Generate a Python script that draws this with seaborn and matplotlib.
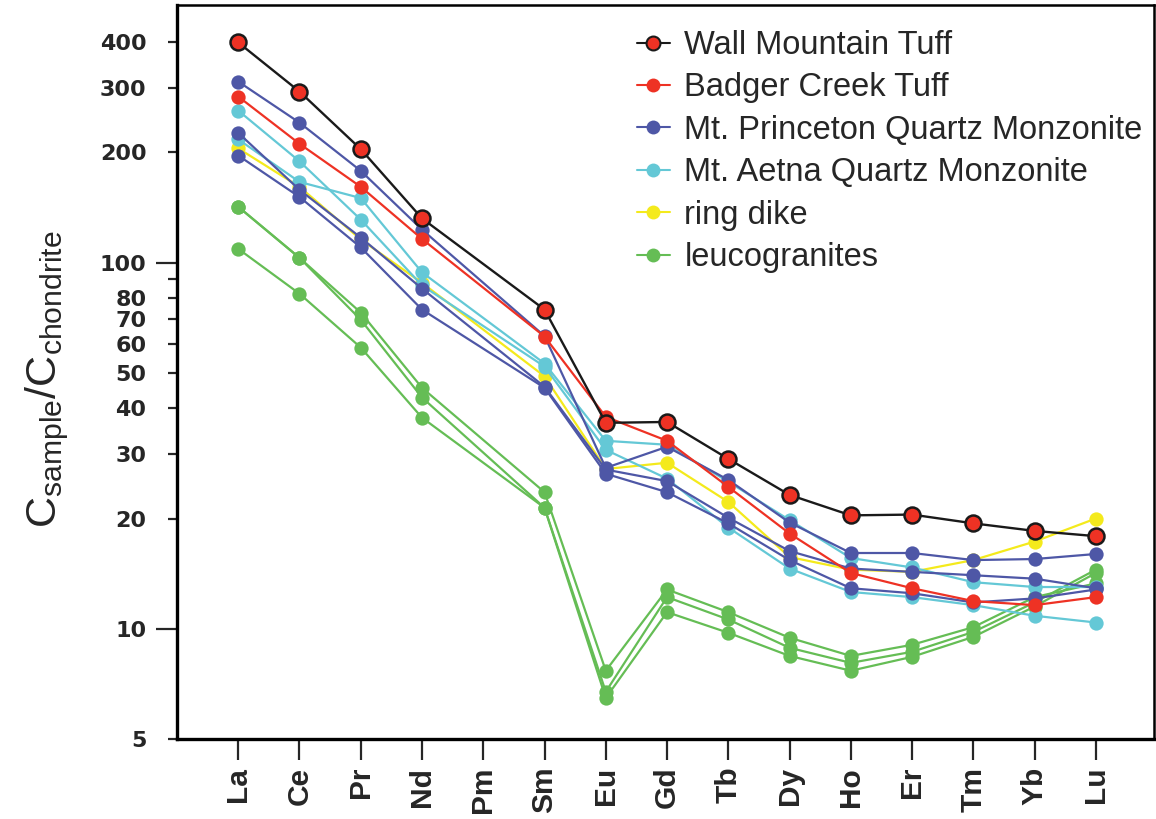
import numpy as np
import pandas as pd
import matplotlib
matplotlib.use("Agg")
import matplotlib.pyplot as plt
from matplotlib.lines import Line2D
from matplotlib.ticker import NullLocator
import seaborn as sns

# Rare earth elements along the x axis (Pm is not measured)
elements = ["La", "Ce", "Pr", "Nd", "Pm", "Sm", "Eu", "Gd", "Tb",
            "Dy", "Ho", "Er", "Tm", "Yb", "Lu"]
nan = np.nan

# Chondrite-normalised concentrations, one list per sample
wall_mountain = [399, 293, 204, 132, nan, 74.4, 36.5, 36.7, 29.1, 23.2, 20.4, 20.5, 19.4, 18.5, 17.9]
badger_creek = [284, 211, 161, 116, nan, 62.8, 37.9, 32.6, 24.4, 18.2, 14.2, 12.9, 11.9, 11.6, 12.2]
princeton_1 = [312, 241, 178, 123, nan, 63.0, 27.5, 31.4, 25.5, 19.5, 16.1, 16.1, 15.4, 15.5, 16.0]
princeton_2 = [226, 158, 117, 84.9, nan, 45.8, 27.2, 25.3, 20.1, 16.3, 14.6, 14.3, 14.0, 13.7, 12.9]
princeton_3 = [196, 151, 110, 74.4, nan, 45.5, 26.5, 23.6, 19.4, 15.4, 12.9, 12.5, 11.8, 12.1, 12.8]
aetna_1 = [260, 189, 131, 86.6, nan, 52.0, 30.8, 25.7, 18.9, 14.6, 12.6, 12.2, 11.6, 10.85, 10.4]
aetna_2 = [217, 166, 150, 94.0, nan, 53.0, 32.6, 31.8, 25.2, 19.8, 15.6, 14.7, 13.4, 13.0, 13.0]
ring_dike = [205, 161, 115.6, 88.0, nan, 48.9, 27.3, 28.4, 22.2, 15.7, 14.5, 14.3, 15.4, 17.3, 20.0]
leuco_1 = [142, 103, 73.0, 45.5, nan, 23.6, 7.68, 12.8, 11.1, 9.45, 8.43, 9.04, 10.1, 12.2, 13.3]
leuco_2 = [142, 103, 69.8, 42.8, nan, 21.4, 6.73, 12.2, 10.6, 8.87, 8.07, 8.65, 9.8, 11.8, 14.5]
leuco_3 = [109, 82.2, 58.6, 37.7, nan, 21.4, 6.47, 11.1, 9.75, 8.43, 7.68, 8.38, 9.5, 11.5, 14.2]

groups = ["Wall Mountain Tuff", "Badger Creek Tuff", "Mt. Princeton Quartz Monzonite",
          "Mt. Aetna Quartz Monzonite", "ring dike", "leucogranites"]
samples = {
    "Wall Mountain Tuff": [wall_mountain],
    "Badger Creek Tuff": [badger_creek],
    "Mt. Princeton Quartz Monzonite": [princeton_1, princeton_2, princeton_3],
    "Mt. Aetna Quartz Monzonite": [aetna_1, aetna_2],
    "ring dike": [ring_dike],
    "leucogranites": [leuco_1, leuco_2, leuco_3],
}
colors = {
    "Wall Mountain Tuff": "#EE3224",
    "Badger Creek Tuff": "#EE3224",
    "Mt. Princeton Quartz Monzonite": "#4E57A6",
    "Mt. Aetna Quartz Monzonite": "#64C8D6",
    "ring dike": "#F4EA1C",
    "leucogranites": "#65BD55",
}

y_ticks = [5, 10, 20, 30, 40, 50, 60, 70, 80, 90, 100, 200, 300, 400]
y_tick_labels = ["5", "10", "20", "30", "40", "50", "60", "70", "80", "", "100", "200", "300", "400"]

# Long-form table, Pm rows dropped so lines run straight from Nd to Sm
rows = []
for g in groups:
    for k, vals in enumerate(samples[g]):
        for i, v in enumerate(vals):
            if not np.isnan(v):
                rows.append({"pos": i, "value": v, "group": g, "sample": f"{g}-{k}"})
df = pd.DataFrame(rows)

sns.set_style("ticks")
plt.rcParams["font.family"] = ["Liberation Sans", "DejaVu Sans"]

fig = plt.figure(figsize=(11.56, 8.19), dpi=100)
ax = fig.add_axes([0.1531, 0.0977, 0.8452, 0.8962])

draw_order = ["ring dike", "leucogranites", "Mt. Aetna Quartz Monzonite",
              "Mt. Princeton Quartz Monzonite", "Badger Creek Tuff", "Wall Mountain Tuff"]
for z, g in enumerate(draw_order):
    sub = df[df["group"] == g]
    if g == "Wall Mountain Tuff":
        sns.lineplot(data=sub, x="pos", y="value", units="sample", estimator=None,
                     sort=False, color="#1a1a1a", linewidth=1.7, marker="o",
                     markersize=11.5, markerfacecolor=colors[g], markeredgecolor="#1a1a1a",
                     markeredgewidth=1.8, legend=False, ax=ax, zorder=3 + z)
    else:
        sns.lineplot(data=sub, x="pos", y="value", units="sample", estimator=None,
                     sort=False, color=colors[g], linewidth=1.6, marker="o",
                     markersize=10.3, markerfacecolor=colors[g], markeredgecolor=colors[g],
                     markeredgewidth=0, legend=False, ax=ax, zorder=3 + z)

ax.set_yscale("log")
ax.set_ylim(5, 505)
ax.set_xlim(-1.0, 14.95)

ax.set_yticks(y_ticks)
ax.set_yticklabels(y_tick_labels, fontfamily="DejaVu Sans", fontweight="heavy", fontsize=16)
ax.yaxis.set_minor_locator(NullLocator())
ax.tick_params(axis="y", which="major", direction="out", length=6.5, width=1.6, pad=15.5)
for t, v in zip(ax.yaxis.get_major_ticks(), y_ticks):
    if v in (10, 100):
        t.tick1line.set_markersize(15)

ax.set_xticks(range(len(elements)))
ax.set_xticklabels(elements, rotation=90, fontfamily="Liberation Sans",
                   fontweight="bold", fontsize=21.5)
ax.tick_params(axis="x", which="major", direction="out", length=15, width=1.6, pad=5)

for name, s in ax.spines.items():
    s.set_linewidth(2.4 if name in ("left", "bottom") else 1.8)
    s.set_color("black")

ax.set_xlabel("")
ax.set_ylabel(r"$\mathregular{C_{sample}/C_{chondrite}}$", fontsize=31,
              fontfamily="Liberation Sans")
ax.yaxis.set_label_coords(-0.108, 0.49)

handles = []
for g in groups:
    if g == "Wall Mountain Tuff":
        h = Line2D([0], [0], color="#1a1a1a", lw=1.5, marker="o", ms=10,
                   mfc=colors[g], mec="#1a1a1a", mew=1.5)
    else:
        h = Line2D([0], [0], color=colors[g], lw=1.5, marker="o", ms=10,
                   mfc=colors[g], mec=colors[g], mew=0)
    handles.append(h)
ax.legend(handles, groups, loc="upper left", bbox_to_anchor=(0.4708, 0.966),
          frameon=False, fontsize=23.5, handlelength=1.0, handletextpad=0.45,
          labelspacing=0.35, borderpad=0, borderaxespad=0)

fig.savefig("out.png", dpi=100)
